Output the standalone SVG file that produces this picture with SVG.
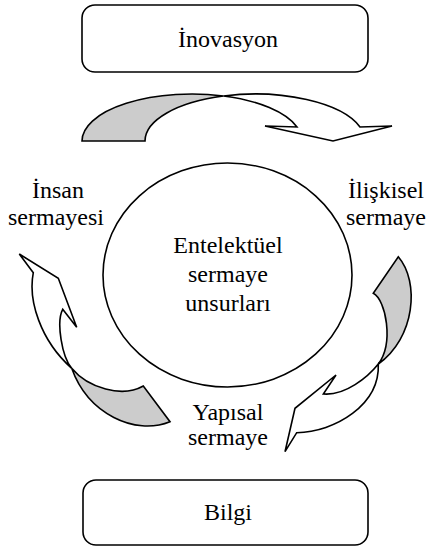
<svg xmlns="http://www.w3.org/2000/svg" width="429" height="548" viewBox="0 0 429 548">
  <style>
    .box { fill: #ffffff; stroke: #000000; stroke-width: 1.6; }
    .band { fill: #ffffff; stroke: #000000; stroke-width: 1.6; stroke-linejoin: miter; }
    .back { fill: #cccccc; stroke: #000000; stroke-width: 1.6; stroke-linejoin: miter; }
    text { font-family: 'Liberation Serif', 'Times New Roman', 'DejaVu Serif', serif; font-size: 24px; fill: #000000; text-anchor: middle; }
  </style>
  <rect width="429" height="548" fill="#ffffff"/>

  <!-- Top box -->
  <g id="inovasyon">
    <rect class="box" x="82" y="5" width="286" height="67" rx="13"/>
    <text x="228" y="47" font-family="Liberation Serif, serif">İnovasyon</text>
  </g>

  <!-- Bottom box -->
  <g id="bilgi">
    <rect class="box" x="83" y="480" width="285" height="65" rx="13"/>
    <text x="228" y="520" font-family="Liberation Serif, serif">Bilgi</text>
  </g>

  <!-- Central ellipse -->
  <g id="entelektuel">
    <ellipse class="box" cx="227.5" cy="275" rx="124.5" ry="112"/>
    <text x="228" y="253" font-family="Liberation Serif, serif">Entelektüel</text>
    <text x="228" y="282" font-family="Liberation Serif, serif">sermaye</text>
    <text x="228" y="311" font-family="Liberation Serif, serif">unsurları</text>
  </g>

  <!-- Side labels -->
  <g id="insan">
    <text x="58" y="198" font-family="Liberation Serif, serif">İnsan</text>
    <text x="56" y="225" font-family="Liberation Serif, serif">sermayesi</text>
  </g>
  <g id="iliskisel">
    <text x="386" y="198" font-family="Liberation Serif, serif">İlişkisel</text>
    <text x="386" y="225" font-family="Liberation Serif, serif">sermaye</text>
  </g>
  <g id="yapisal">
    <text x="228" y="420" font-family="Liberation Serif, serif">Yapısal</text>
    <text x="228" y="445" font-family="Liberation Serif, serif">sermaye</text>
  </g>

  <!-- Curved cycle arrows -->
  <g id="connectors">
    <!-- top: curved down arrow -->
    <path class="back" d="M82,141 A110,47 0 0 1 223.5,96 A110,47 0 0 0 145,141 Z"/>
    <path class="band" d="M223.5,96 A110,47 0 0 1 360,127 L392,126 L333,141 L265,126 L297,127 A110,47 0 0 0 223.5,96 Z"/>

    <!-- right: curved arrow down towards Yapısal -->
    <path class="back" d="M398.3,256.7 C420,282 415,338 378.3,364 C394,343 386,300 373.3,293.3 Z"/>
    <path class="band" d="M378.3,364 C368,377 345,396 323.3,394 L336,375 L295,408.3 L285,451.7 L296.7,432.7 C335,432 380,405 378.3,364 Z"/>

    <!-- left: curved arrow up towards İnsan -->
    <path class="band" d="M71.7,368.3 C40,340 28,300 33.3,272.7 L19.3,254 L58.3,278.3 L76.7,327.3 L62.7,309.3 C56,322 62,357 71.7,368.3 Z"/>
    <path class="back" d="M71.7,368.3 C88,388 122,398 143.3,386 L170,421.7 C135,436 88,414 71.7,368.3 Z"/>
  </g>
</svg>
